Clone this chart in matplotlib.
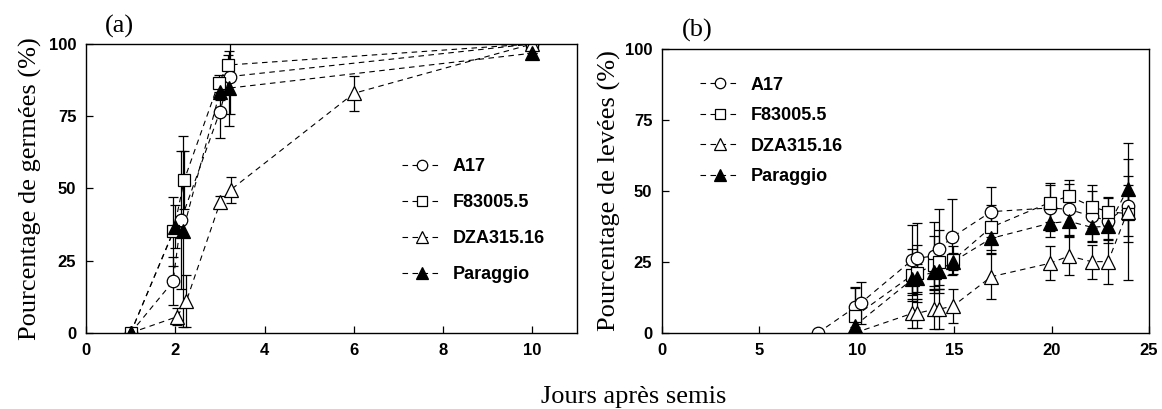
import matplotlib.pyplot as plt
from matplotlib.lines import Line2D

# ---- data, panel (a): germination ----
labels = ['A17', 'F83005.5', 'DZA315.16', 'Paraggio']

a_x_a17 = [1, 1.95, 2.13, 3.0, 3.22, 10]
a_y_a17 = [0, 17.8, 39.1, 76.6, 88.7, 100]
a_e_a17 = [0, 8.3, 24, 9, 13, 0]

a_x_f83 = [1, 1.96, 2.2, 2.97, 3.18, 10]
a_y_f83 = [0, 35.1, 52.9, 86.4, 92.7, 100]
a_e_f83 = [0, 12, 10, 3, 3.5, 0]

a_x_dza = [1, 2.04, 2.25, 3.01, 3.24, 6, 10]
a_y_dza = [0, 5.6, 11.1, 45.4, 49.5, 82.9, 100]
a_e_dza = [0, 3, 9, 2, 4.4, 6, 0]

a_x_par = [1, 2.0, 2.17, 3.0, 3.2, 10]
a_y_par = [0, 36.8, 35.1, 83.5, 84.7, 96.8]
a_e_par = [0, 7.5, 33, 3, 13, 0]

# ---- data, panel (b): emergence ----
b_x_a17 = [8, 9.9, 10.2, 12.85, 13.1, 13.95, 14.2, 14.9, 16.9, 19.9, 20.9, 22.1, 22.9, 23.9]
b_y_a17 = [0, 9, 10.5, 25.7, 26.3, 27.1, 29.5, 33.7, 42.7, 44, 43.5, 41, 39.5, 44.7]
b_e_a17 = [0, 7, 7.5, 12.3, 12.5, 12, 14, 13.3, 8.8, 8, 9, 9, 8, 10.5]

b_x = [9.9, 12.85, 13.1, 13.95, 14.2, 14.95, 16.9, 19.9, 20.9, 22.05, 22.9, 23.9]
b_y_f83 = [5.8, 20.4, 21, 24, 25.1, 25.7, 37.2, 45.9, 48.2, 44.5, 42.7, 42]
b_e_f83 = [10, 9, 10, 10, 11, 5, 8, 7, 5.7, 7.6, 5, 10]
b_y_dza = [0, 6.9, 6.9, 8.3, 8.3, 9.5, 19.8, 24.5, 27.1, 25.1, 25.1, 42.7]
b_e_dza = [0, 5, 5, 7, 7, 6, 8, 6, 6.7, 6, 8, 24]
b_y_par = [2.5, 18.9, 19.3, 21.6, 21.9, 25.1, 33.3, 38.6, 39.3, 37.2, 37.6, 50.6]
b_e_par = [2, 5, 5, 5, 5, 3, 5, 5, 5, 5, 5, 10.6]

styles = [('o', 'white', 9), ('s', 'white', 8.5), ('^', 'white', 10), ('^', 'black', 10.5)]
dash = (0, (5, 4))
sans = 'Liberation Sans'
serif = 'Liberation Serif'


def draw(ax, series):
    for (x, y, e), (m, fc, ms) in zip(series, styles):
        ax.plot(x, y, ls=dash, color='black', lw=0.8, zorder=1)
        ax.errorbar(x, y, yerr=e, fmt=m, mfc=fc, mec='black', mew=0.9, ms=ms,
                    ecolor='black', elinewidth=0.9, capsize=3.5, capthick=0.9, zorder=2)


def style(ax, xmax, xstep):
    ax.set_xlim(0, xmax)
    ax.set_ylim(0, 100)
    ax.set_xticks(range(0, xmax + 1, xstep))
    ax.set_yticks([0, 25, 50, 75, 100])
    ax.tick_params(direction='in', length=5, width=0.9, pad=7)
    for lab in ax.get_xticklabels() + ax.get_yticklabels():
        lab.set_fontfamily(sans)
        lab.set_fontweight('bold')
        lab.set_fontsize(12)
    for sp in ax.spines.values():
        sp.set_linewidth(1.0)


def legend(ax, anchor, spacing):
    handles = [Line2D([], [], ls=dash, color='black', lw=0.8, marker=m, mfc=fc,
                      mec='black', mew=0.9, ms=ms - 1.5) for m, fc, ms in styles]
    ax.legend(handles, labels, loc='upper left', bbox_to_anchor=anchor, frameon=False,
              handlelength=2.2, handletextpad=0.6, labelspacing=spacing,
              prop={'family': sans, 'weight': 'bold', 'size': 13})


fig = plt.figure(figsize=(11.62, 4.09), dpi=100)
ax1 = fig.add_axes([0.074, 0.186, 0.4226, 0.7066])
ax2 = fig.add_axes([0.5697, 0.186, 0.4191, 0.6944])

draw(ax1, [(a_x_a17, a_y_a17, a_e_a17), (a_x_f83, a_y_f83, a_e_f83),
           (a_x_dza, a_y_dza, a_e_dza), (a_x_par, a_y_par, a_e_par)])
draw(ax2, [(b_x_a17, b_y_a17, b_e_a17), (b_x, b_y_f83, b_e_f83),
           (b_x, b_y_dza, b_e_dza), (b_x, b_y_par, b_e_par)])

style(ax1, 11, 2)
style(ax2, 25, 5)
legend(ax1, (0.61, 0.66), 1.05)
legend(ax2, (0.045, 0.96), 0.75)

ax1.set_ylabel('Pourcentage de germées (%)', fontfamily=serif, fontsize=19, labelpad=5)
ax2.set_ylabel('Pourcentage de levées (%)', fontfamily=serif, fontsize=19, labelpad=3)
fig.text(0.103, 0.935, '(a)', fontfamily=serif, fontsize=19, ha='center', va='center')
fig.text(0.600, 0.925, '(b)', fontfamily=serif, fontsize=19, ha='center', va='center')
fig.text(0.545, 0.03, 'Jours après semis', fontfamily=serif, fontsize=19, ha='center', va='center')

fig.savefig('out.png', dpi=100)
